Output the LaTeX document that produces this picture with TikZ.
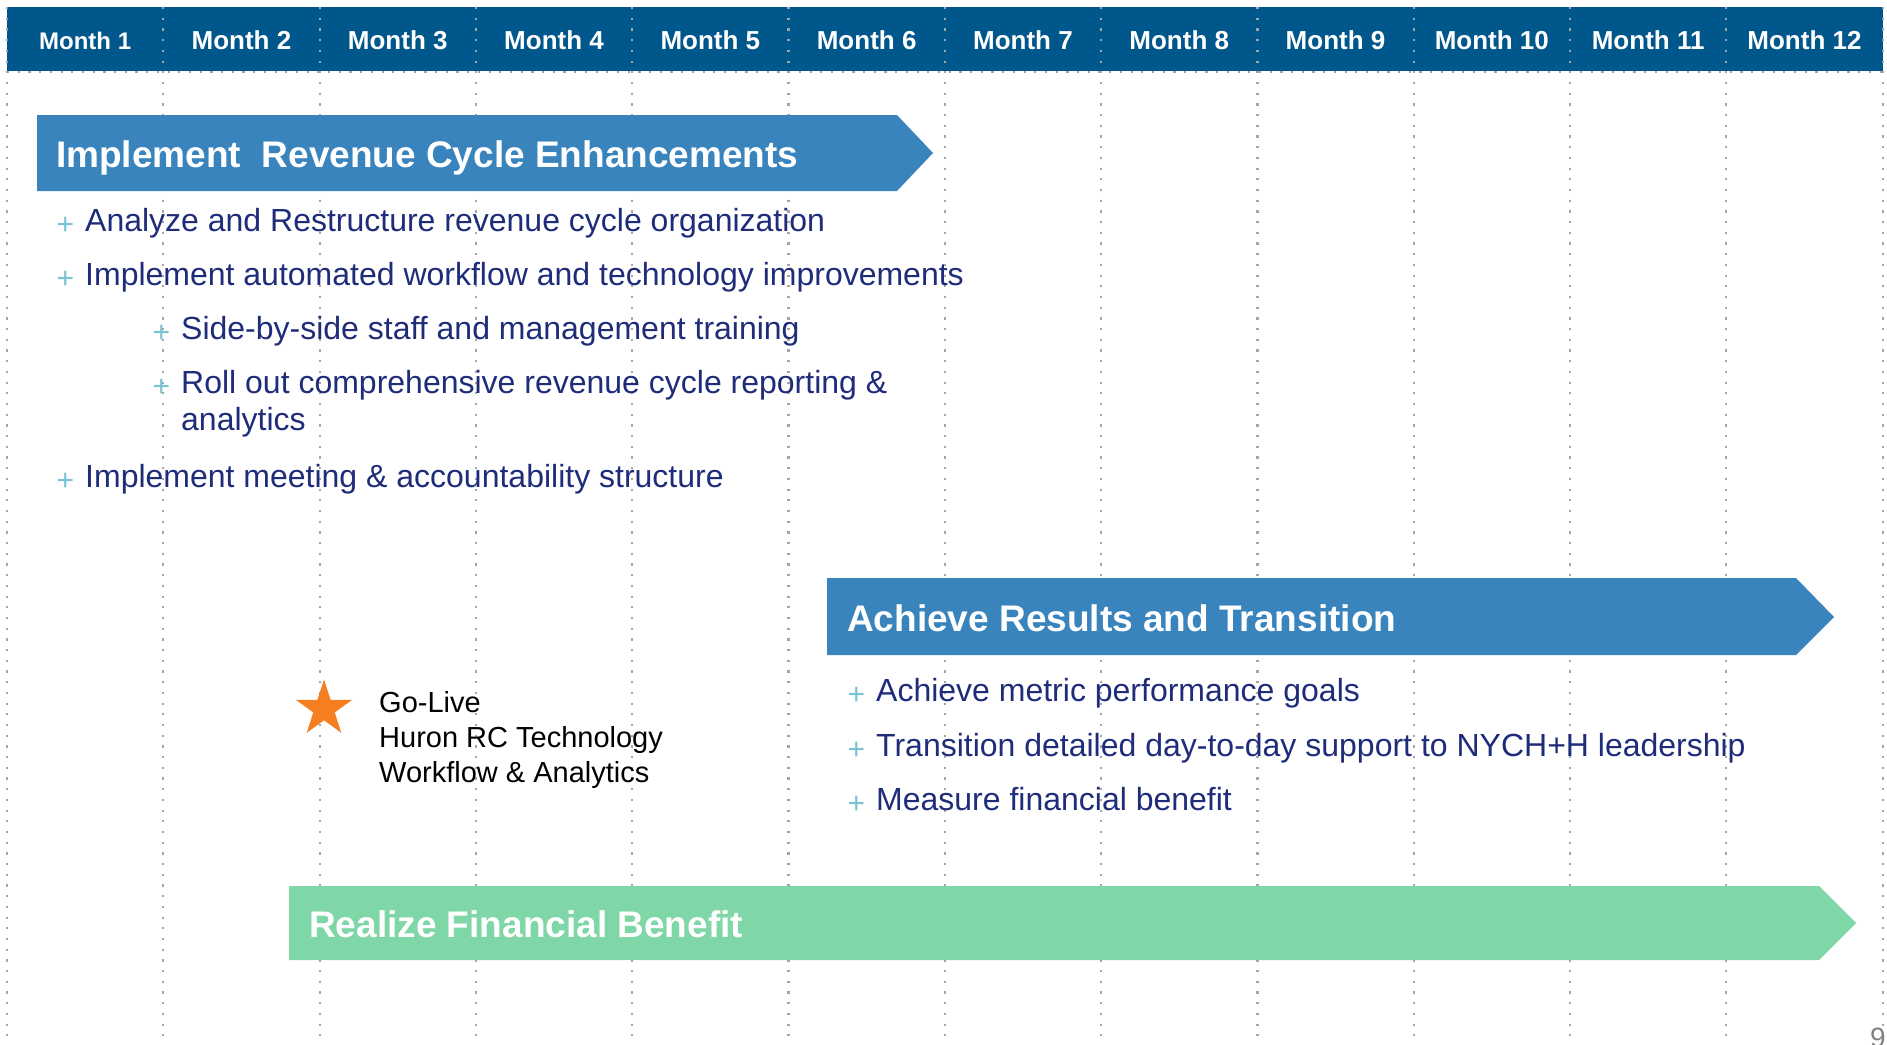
\documentclass[tikz,border=0pt]{standalone}
\usepackage{fontspec}
\setmainfont{Liberation Sans}
\usepackage{tikz}
\usepackage{xcolor}
\usetikzlibrary{shapes.geometric}

\definecolor{headblue}{RGB}{0,87,140}
\definecolor{phaseblue}{RGB}{58,132,190}
\definecolor{phasegreen}{RGB}{127,214,166}
\definecolor{itemnavy}{RGB}{30,44,122}
\definecolor{plusteal}{RGB}{120,196,212}
\definecolor{gridgray}{RGB}{165,165,165}
\definecolor{starorange}{RGB}{245,127,32}

\newcommand{\fsz}[1]{\fontsize{#1}{#1}\selectfont}
\newcommand{\plusmark}{\llap{\textcolor{plusteal}{\raisebox{-3pt}{\fsz{30}+}}\hspace{11pt}}}

\begin{document}
\begin{tikzpicture}[
        x=1pt, y=-1pt,
        declare function={
            colx(\k) = 7 + \k*156.3;
            Top=7;
            Bottom=1044;
        },
        griddots/.style={gridgray, line width=2.2pt, dash pattern=on 2.2pt off 8.5pt},
        monthlabel/.style={anchor=base, inner sep=0pt, text=white, font=\bfseries\fsz{26}},
        phasetitle/.style={anchor=base west, inner sep=0pt, text=white, font=\bfseries\fsz{37}},
        item/.style={anchor=base west, inner sep=0pt, text=itemnavy, font=\fsz{32}},
    ]
        \path[use as bounding box, fill=white] (0,0) rectangle (1887,1044);

        % month header
        \fill[headblue] ({colx(0)},Top) rectangle ({colx(12)},71);
        \foreach \k in {0,...,12}
            \draw[griddots] ({colx(\k)},Top) -- ({colx(\k)},Bottom);
        \draw[griddots] ({colx(0)},72) -- ({colx(12)},72);

        \node[monthlabel, font=\bfseries\fsz{24}] (month1) at ({colx(0.5)},49) {Month 1};
        \foreach \k in {2,...,12}
            \node[monthlabel] (month\k) at ({colx(\k-0.5)},49) {Month \k};

        % phase arrows
        \fill[phaseblue] (37,115) -- (897,115) -- (933,153) -- (897,191) -- (37,191) -- cycle;
        \fill[phaseblue] (827,578) -- (1796,578) -- (1834,617) -- (1796,655) -- (827,655) -- cycle;
        \fill[phasegreen] (289,886) -- (1819,886) -- (1856,923) -- (1819,960) -- (289,960) -- cycle;

        \node[phasetitle] (implement) at (56,167) {Implement\ \ Revenue Cycle Enhancements};
        \node[phasetitle] (achieve) at (847,631) {Achieve Results and Transition};
        \node[phasetitle] (realize) at (309,937) {Realize Financial Benefit};

        % first phase items (base of a two-line node = its last line)
        \node[item] (analyze) at (85,231) {\plusmark Analyze and Restructure revenue cycle organization};
        \node[item] (automate) at (85,285) {\plusmark Implement automated workflow and technology improvements};
        \node[item] (training) at (181,339) {\plusmark Side-by-side staff and management training};
        \node[item, align=left, font=\fontsize{32}{37}\selectfont] (rollout) at (181,430)
            {\plusmark Roll out comprehensive revenue cycle reporting \&\\analytics};
        \node[item] (meeting) at (85,487) {\plusmark Implement meeting \& accountability structure};

        % second phase items
        \node[item] (metric) at (876,701) {\plusmark Achieve metric performance goals};
        \node[item] (handover) at (876,756) {\plusmark Transition detailed day-to-day support to NYCH+H leadership};
        \node[item] (measure) at (876,810) {\plusmark Measure financial benefit};

        % go-live milestone
        \node[star, star points=5, star point ratio=2.618, fill=starorange, minimum size=59pt, inner sep=0pt] (golive) at (324,709) {};
        \node[anchor=base west, inner sep=0pt, align=left, font=\fontsize{29}{35}\selectfont] (golivetext) at (379,782)
            {Go-Live\\Huron RC Technology\\Workflow \& Analytics};

        \node[anchor=north west, inner sep=0pt, text=gray, font=\fsz{28}] (pagenum) at (1870,1028) {9};
    \end{tikzpicture}
\end{document}
